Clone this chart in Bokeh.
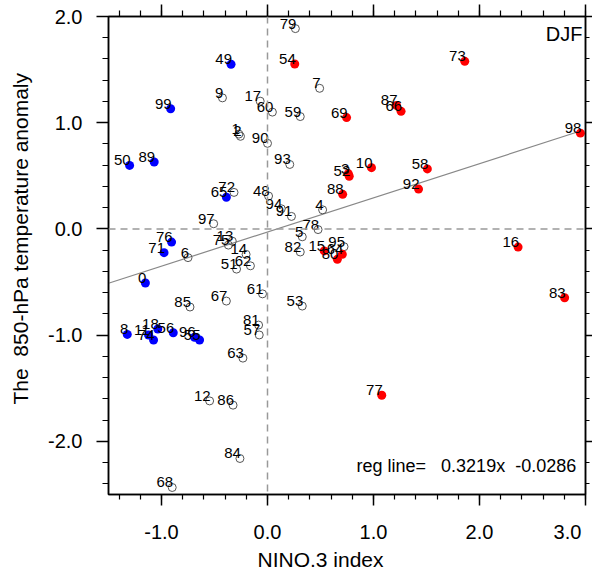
from bokeh.plotting import figure
from bokeh.models import LinearAxis, Range1d, Label, ColumnDataSource, Span, FixedTicker, NumeralTickFormatter, Title
from bokeh.core.properties import value
from bokeh.embed import file_html
from bokeh.resources import INLINE

# ---- data ----
red_lab = ["54", "73", "69", "87", "66", "98", "10", "58", "3", "52", "88", "92", "15", "64", "80", "16", "83", "77"]
red_x = [0.257, 1.861, 0.746, 1.217, 1.260, 2.952, 0.981, 1.508, 0.762, 0.771, 0.709, 1.425, 0.535, 0.706, 0.659, 2.364, 2.803, 1.078]
red_y = [1.553, 1.578, 1.048, 1.163, 1.107, 0.902, 0.577, 0.565, 0.521, 0.496, 0.326, 0.375, -0.207, -0.239, -0.286, -0.171, -0.648, -1.566]

blue_lab = ["49", "99", "50", "89", "65", "76", "71", "0", "8", "11", "18", "74", "56", "96", "55"]
blue_x = [-0.344, -0.914, -1.301, -1.069, -0.388, -0.905, -0.976, -1.152, -1.323, -1.122, -1.035, -1.075, -0.889, -0.688, -0.641]
blue_y = [1.551, 1.132, 0.598, 0.630, 0.298, -0.124, -0.223, -0.509, -0.993, -0.998, -0.942, -1.045, -0.977, -1.020, -1.045]

open_lab = ["79", "9", "17", "60", "59", "7", "1", "2", "90", "93", "72", "48", "94", "91", "97", "4", "78", "5",
            "82", "95", "13", "75", "14", "62", "51", "61", "67", "85", "53", "81", "57", "63", "12", "86", "84", "68", "6"]
open_x = [0.263, -0.425, -0.069, 0.046, 0.309, 0.492, -0.270, -0.255, 0.000, 0.210, -0.316, 0.010, 0.130, 0.226, -0.508, 0.520, 0.477, 0.328,
          0.309, 0.722, -0.332, -0.369, -0.202, -0.161, -0.292, -0.047, -0.388, -0.731, 0.328, -0.084, -0.078, -0.232, -0.546, -0.325, -0.260, -0.899, -0.750]
open_y = [1.886, 1.234, 1.203, 1.100, 1.058, 1.324, 0.893, 0.872, 0.806, 0.607, 0.344, 0.310, 0.190, 0.118, 0.049, 0.180, -0.006, -0.074,
          -0.217, -0.167, -0.115, -0.152, -0.239, -0.347, -0.378, -0.611, -0.679, -0.735, -0.726, -0.905, -0.998, -1.216, -1.619, -1.659, -2.161, -2.434, -0.270]

slope = 0.3219
intercept = -0.0286
reg_x = [-1.5, 2.952]

x_major = [-1, 0, 1, 2, 3]
y_major = [-2, -1, 0, 1, 2]
x_tick_labels = {-1: "-1.0", 0: "0.0", 1: "1.0", 2: "2.0", 3: "3.0\u00a0\u00a0"}
x_minor = [round(-1.4 + 0.2 * i, 1) for i in range(23)]
y_minor = [round(-2.4 + 0.2 * i, 1) for i in range(23)]

FONT = "Liberation Sans"

p = figure(width=592, height=570, x_range=Range1d(-1.5, 3.0), y_range=Range1d(-2.5, 2.0),
           output_backend="svg", toolbar_location=None,
           min_border_left=108, min_border_right=7, min_border_top=16, min_border_bottom=73)
p.grid.visible = False
p.outline_line_color = "black"
p.outline_line_width = 1.5

for ax in [p.xaxis[0], p.yaxis[0]]:
    ax.major_tick_in = 0
    ax.minor_tick_in = 0
    ax.axis_line_width = 1.5
    ax.major_tick_line_width = 1.5
    ax.minor_tick_line_width = 1.2
    ax.major_label_text_font = FONT
    ax.major_label_text_font_size = "20px"
    ax.major_label_text_color = "black"
    ax.formatter = NumeralTickFormatter(format="0.0")

p.xaxis[0].ticker = FixedTicker(ticks=x_major, minor_ticks=x_minor)
p.yaxis[0].ticker = FixedTicker(ticks=y_major, minor_ticks=y_minor)
p.xaxis[0].major_label_overrides = x_tick_labels
p.xaxis[0].major_tick_out = 11
p.xaxis[0].minor_tick_out = 5
p.xaxis[0].major_label_standoff = 15
p.yaxis[0].major_tick_out = 12
p.yaxis[0].minor_tick_out = 6
p.yaxis[0].major_label_standoff = 14

top = LinearAxis(ticker=FixedTicker(ticks=x_major, minor_ticks=x_minor), major_label_text_font_size="0px",
                 major_label_text_color=None, major_label_standoff=0,
                 major_tick_out=12, major_tick_in=0, minor_tick_out=6, minor_tick_in=0,
                 axis_line_width=1.5, major_tick_line_width=1.5, minor_tick_line_width=1.2)
right = LinearAxis(ticker=FixedTicker(ticks=y_major, minor_ticks=y_minor), major_label_text_font_size="0px",
                   major_label_text_color=None, major_label_standoff=0,
                   major_tick_out=7, major_tick_in=0, minor_tick_out=4, minor_tick_in=0,
                   axis_line_width=1.5, major_tick_line_width=1.5, minor_tick_line_width=1.2)
p.add_layout(top, "above")
p.add_layout(right, "right")

p.add_layout(Title(text="NINO.3 index", align="left", offset=149, standoff=0,
                   text_font=FONT, text_font_size="21px", text_font_style="normal", text_color="black"), "below")
p.add_layout(Title(text="The \u00a0850-hPa temperature anomaly\n", align="left", offset=90, standoff=0,
                   text_line_height=0.6,
                   text_font=FONT, text_font_size="21px", text_font_style="normal", text_color="black"), "left")

p.add_layout(Span(location=0, dimension="height", line_color="#999999", line_width=1.5, line_dash="7 5"))
p.add_layout(Span(location=0, dimension="width", line_color="#999999", line_width=1.5, line_dash="7 5"))

reg_y = [slope * v + intercept for v in reg_x]
p.line(reg_x, reg_y, line_color="#888888", line_width=1.2)

src_o = ColumnDataSource(dict(x=open_x, y=open_y, t=open_lab))
src_r = ColumnDataSource(dict(x=red_x, y=red_y, t=red_lab))
src_b = ColumnDataSource(dict(x=blue_x, y=blue_y, t=blue_lab))

p.scatter("x", "y", source=src_o, size=8, fill_color=None, line_color="#555555", line_width=1)
p.scatter("x", "y", source=src_r, size=9, fill_color="#ff0000", line_color=None)
p.scatter("x", "y", source=src_b, size=9, fill_color="#0000ff", line_color=None)

for s in (src_o, src_r, src_b):
    p.text("x", "y", text="t", source=s, text_align="right", text_baseline="middle",
           x_offset=1, y_offset=-5, text_font=value(FONT), text_font_size="15px", text_color="black")

p.add_layout(Label(x=2.972, y=1.839, text="DJF", text_align="right", text_baseline="middle",
                   text_font=FONT, text_font_size="20px", text_color="black"))
reg_text = f"reg line=\u00a0\u00a0 {slope:.4f}x\u00a0 {intercept:.4f}"
p.add_layout(Label(x=0.84, y=-2.228, text=reg_text, text_align="left",
                   text_baseline="middle", text_font=FONT, text_font_size="18px", text_color="black"))

open("out.html", "w").write(file_html(p, INLINE))
